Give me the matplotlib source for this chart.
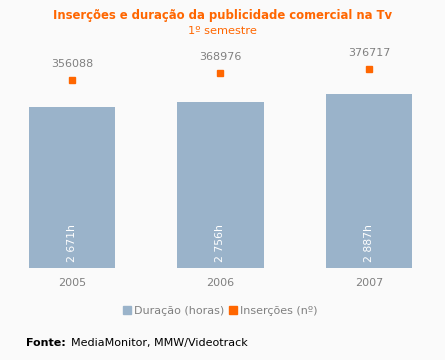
import matplotlib.pyplot as plt
from matplotlib.patches import Patch

years = ["2005", "2006", "2007"]
duracao_horas = [2671, 2756, 2887]
duracao_labels = ["2 671h", "2 756h", "2 887h"]
insercoes = [356088, 368976, 376717]

BG = "#fafafa"
BAR = "#9ab3ca"
ORANGE = "#ff6600"
GRAY = "#808080"

plt.rcParams["font.family"] = ["DejaVu Sans"]

fig = plt.figure(figsize=(4.45, 3.6), dpi=100, facecolor=BG)
ax = fig.add_axes([0, 92 / 360, 1, 228 / 360])
ax.set_facecolor(BG)

x = list(range(len(years)))
ax.bar(x, duracao_horas, width=0.58, color=BAR)
ax.set_xlim(-0.485, 2.512)
ax.set_ylim(0, 3781)

for xi, v, lab in zip(x, duracao_horas, duracao_labels):
    ax.text(xi, 100, lab, rotation=90, ha="center", va="bottom",
            color="white", fontsize=7.8)

ax2 = ax.twinx()
ax2.set_ylim(0, 431818)
ax2.plot(x, insercoes, linestyle="none", marker="s", markersize=4.3,
         color=ORANGE)
for xi, v in zip(x, insercoes):
    ax2.annotate(str(v), (xi, v), xytext=(0, 8), textcoords="offset points",
                 ha="center", va="bottom", color=GRAY, fontsize=8)

for a in (ax, ax2):
    for s in a.spines.values():
        s.set_visible(False)
    a.set_yticks([])
ax.set_xticks(x)
ax.set_xticklabels(years, color=GRAY, fontsize=8)
ax.tick_params(axis="x", length=0, pad=7)

fig.text(0.5, 1 - 16 / 360, "Inserções e duração da publicidade comercial na Tv",
         ha="center", va="center", color=ORANGE, fontsize=8.4, fontweight="bold")
fig.text(0.5, 1 - 31 / 360, "1º semestre", ha="center", va="center",
         color=ORANGE, fontsize=8.2)

handles = [Patch(color=BAR, label="Duração (horas)"),
           Patch(color=ORANGE, label="Inserções (nº)")]
fig.legend(handles=handles, loc="center", bbox_to_anchor=(0.495, 1 - 311 / 360),
           ncol=2, frameon=False, fontsize=8, handlelength=0.7,
           handleheight=0.7, handletextpad=0.3, columnspacing=0.4,
           labelcolor=GRAY)

fig.text(26 / 445, 1 - 343 / 360, "Fonte:", ha="left", va="center",
         color="black", fontsize=8, fontweight="bold")
fig.text(71 / 445, 1 - 343 / 360, "MediaMonitor, MMW/Videotrack", ha="left",
         va="center", color="black", fontsize=8)

fig.savefig("out.png", dpi=100, facecolor=BG)
